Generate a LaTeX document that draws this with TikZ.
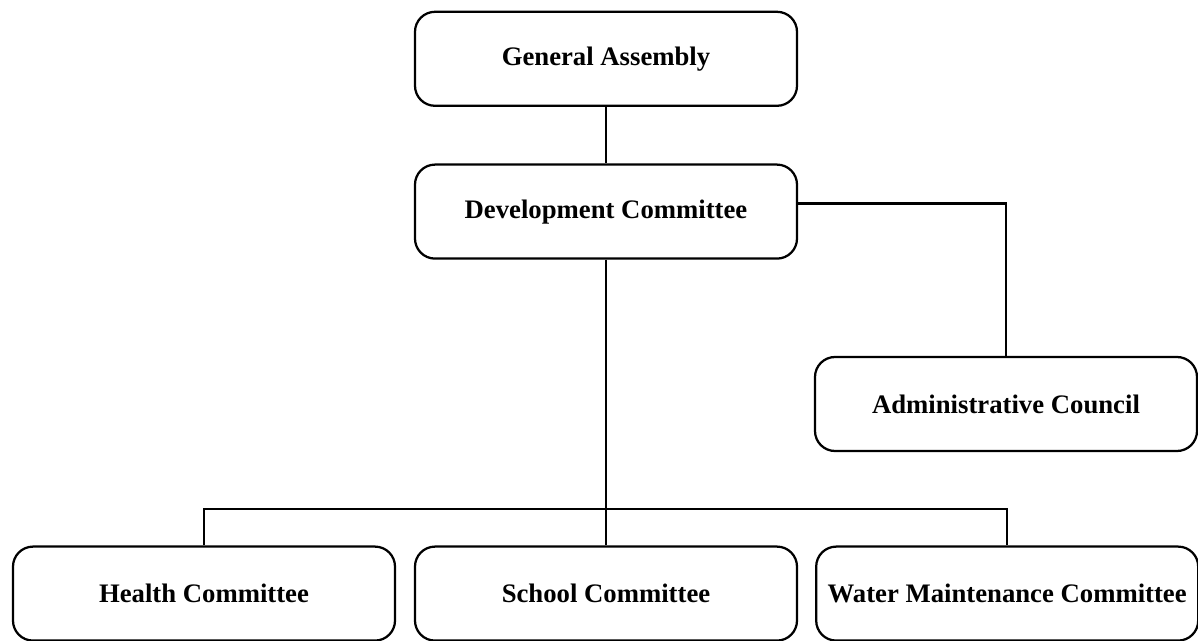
\documentclass[tikz,border=0pt]{standalone}
\usepackage{fontspec}
\setmainfont{Liberation Serif}
\begin{document}
\begin{tikzpicture}[line width = 1.6pt,
		box/.style = {draw, rounded corners = 0.5cm, minimum width = 9.55cm, minimum height = 2.35cm, inner sep = 2pt, font = \bfseries\fontsize{19}{23}\selectfont}]
	\useasboundingbox (0, 0) rectangle (29.95, -16.025);

	\coordinate (bus) at (0, -12.725);

	\node [box] (assembly) at (15.15, -1.47) {General Assembly};
	\node [box] (devt) at (15.15, -5.29) {Development Committee};
	\node [box] (admin) at (25.15, -10.1) {Administrative Council};
	\node [box] (health) at (5.1, -14.84) {Health Committee};
	\node [box] (school) at (15.15, -14.84) {School Committee};
	\node [box] (water) at (25.18, -14.84) {Water Maintenance Committee};

	\draw (assembly) -- (devt);
	\draw ([yshift = 0.2cm] devt.east) -| (admin.north);
	\draw (devt) -- (school);
	\draw (health.north) -- (health.north |- bus) -- (water.north |- bus) -- (water.north);
\end{tikzpicture}
\end{document}
